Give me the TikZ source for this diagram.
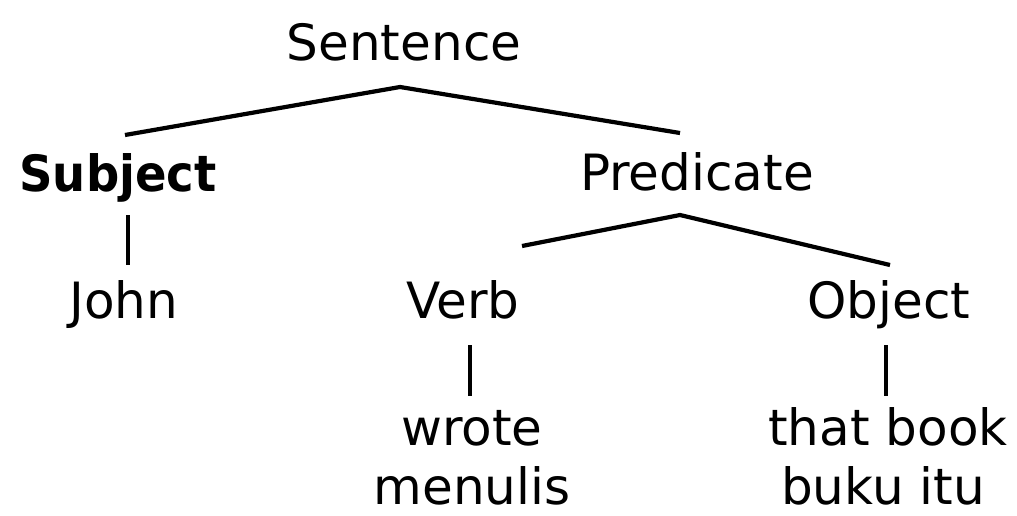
\documentclass[tikz,border=0pt]{standalone}
\usepackage{fontspec}
\setmainfont{DejaVu Sans}
\newfontfamily\narrowbold[FakeStretch=0.93]{DejaVu Sans Bold}
\begin{document}
\begin{tikzpicture}[x=1pt,y=-1pt,
  lbl/.style={anchor=base, inner sep=0pt, font=\fontsize{50}{60}\selectfont},
  branch/.style={line width=4.2pt, line join=miter, line cap=butt},
  bar/.style={line width=3.4pt}]
\useasboundingbox[fill=white] (0,0) rectangle (1017,515);
% nodes
\node[lbl] (sentence) at (404,60) {Sentence};
\node[lbl, font=\fontsize{50}{60}\narrowbold] (subject) at (118,191) {Subject};
\node[lbl] (predicate) at (697,190) {Predicate};
\node[lbl] (john) at (124,318) {John};
\node[lbl] (verb) at (463,318) {Verb};
\node[lbl] (object) at (889,318) {Object};
\node[lbl] (wrote) at (472,445) {wrote};
\node[lbl] (menulis) at (472,504) {menulis};
\node[lbl] (thatbook) at (888,445) {that book};
\node[lbl] (bukuitu) at (883,504) {buku itu};
% connector points
\coordinate (sApex) at (400,87);
\coordinate (subjTop) at (125,135);
\coordinate (predTop) at (680,133);
\coordinate (pApex) at (680,215);
\coordinate (verbTop) at (522,246);
\coordinate (objTop) at (890,265);
\coordinate (subjBot) at (128,215);
\coordinate (johnTop) at (128,265);
\coordinate (verbBot) at (470,345);
\coordinate (wroteTop) at (470,396);
\coordinate (objBot) at (886,345);
\coordinate (bookTop) at (886,396);
% connectors
\draw[branch] (subjTop) -- (sApex) -- (predTop);
\draw[branch] (verbTop) -- (pApex) -- (objTop);
\draw[bar] (subjBot) -- (johnTop);
\draw[bar] (verbBot) -- (wroteTop);
\draw[bar] (objBot) -- (bookTop);
\end{tikzpicture}
\end{document}
